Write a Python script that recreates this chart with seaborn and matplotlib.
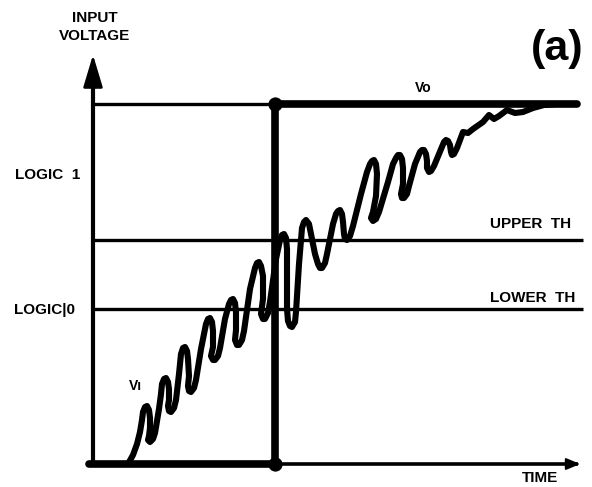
import matplotlib
matplotlib.use("Agg")
import matplotlib.pyplot as plt
import numpy as np
import pandas as pd
import seaborn as sns

# input signal Vi as (time, voltage) pairs, arbitrary units
vi_points = [
    (35, 0), (40, 9), (44, 20), (47, 32), (49, 44),
    (50, 52), (52, 57), (54, 58), (56, 54), (57, 46), (57, 36),
    (56, 28), (55, 24), (57, 22), (60, 25), (62, 31), (66, 55), (68, 70),
    (69, 80), (71, 85), (73, 86), (75, 82), (76, 75), (76, 64),
    (75, 58), (76, 53), (78, 52), (81, 56), (83, 64), (86, 90),
    (88, 110), (90, 116), (92, 117), (94, 113), (95, 105), (96, 88),
    (95, 78), (96, 73), (98, 72), (101, 76), (103, 84), (108, 115),
    (113, 140), (115, 145), (117, 146), (119, 142), (120, 133), (120, 117),
    (118, 108), (120, 104), (122, 104), (125, 108), (127, 116), (132, 145),
    (136, 160), (138, 164), (140, 165), (142, 161), (143, 152), (143, 134),
    (142, 124), (144, 119), (146, 119), (149, 124), (151, 133), (157, 175),
    (162, 196), (164, 201), (166, 202), (168, 198), (170, 188), (170, 165),
    (168, 150), (170, 145), (172, 145), (175, 151), (177, 162), (183, 205),
    (187, 224), (189, 229), (191, 230), (193, 226), (194, 215), (194, 185),
    (194, 155), (195, 143), (197, 138), (199, 137), (202, 142), (203, 152),
    (206, 200), (209, 236), (211, 242), (213, 244), (216, 240), (218, 230),
    (222, 210), (225, 200), (227, 196), (229, 196), (232, 201), (234, 210),
    (240, 240), (243, 250), (245, 253), (247, 254), (249, 250), (250, 242),
    (251, 230), (252, 225), (254, 224), (257, 228), (260, 238), (268, 270),
    (274, 292), (277, 300), (279, 303), (281, 304), (283, 300), (284, 290),
    (283, 268), (280, 252), (278, 246), (280, 243), (283, 245), (286, 252),
    (295, 282), (300, 300), (303, 306), (305, 309), (307, 309), (309, 305),
    (310, 296), (310, 280), (308, 270), (309, 266), (311, 266), (314, 270),
    (316, 278), (322, 300), (327, 312), (329, 314), (331, 314), (333, 310),
    (334, 303), (334, 296), (336, 292), (338, 293), (341, 298), (348, 315),
    (351, 322), (353, 324), (355, 323), (357, 319), (358, 312), (359, 309),
    (361, 310), (364, 316), (370, 332), (375, 331), (380, 335), (390, 342),
    (396, 349), (401, 345), (406, 348), (414, 354), (422, 351), (430, 352),
    (440, 356), (451, 359), (463, 360),
]

# output Vo: low, switches once, then high
vo_t = [-4, 182, 182, 484]
vo_v = [0, 0, 360, 360]
switch_t = [182, 182]
switch_v = [0, 360]

upper_th = 224
lower_th = 155
v_high = 360
t_end = 490

vi = pd.DataFrame(vi_points, columns=["t", "v"])
vo = pd.DataFrame({"t": vo_t, "v": vo_v})

sns.set_style("white")
plt.rcParams["font.family"] = ["Liberation Sans", "DejaVu Sans"]

fig = plt.figure(figsize=(5.92, 4.87), dpi=100)
ax = fig.add_axes([0, 0, 1, 1])
ax.set_xlim(-93, 499)
ax.set_ylim(-23, 464)
ax.axis("off")

ink = "black"
# thin reference lines
ax.hlines([upper_th, lower_th], 0, t_end, color=ink, lw=2.4)
ax.hlines(v_high, 0, 182, color=ink, lw=2.4)
ax.hlines(0, 182, t_end - 5, color=ink, lw=2.6)
ax.vlines(0, 0, 385, color=ink, lw=3.0)

# axis arrows
ax.annotate("", xy=(0, 412), xytext=(0, 380),
            arrowprops=dict(arrowstyle="-|>,head_length=1.0,head_width=0.3",
                            mutation_scale=20, color=ink, lw=2))
ax.annotate("", xy=(t_end, 0), xytext=(t_end - 14, 0),
            arrowprops=dict(arrowstyle="-|>,head_length=0.6,head_width=0.25",
                            mutation_scale=14, color=ink, lw=1.5))

# Vo
sns.lineplot(data=vo, x="t", y="v", sort=False, estimator=None, ax=ax,
             color=ink, lw=5.5, solid_joinstyle="miter")
sns.scatterplot(x=switch_t, y=switch_v, ax=ax, color=ink, s=90,
                edgecolor=ink, zorder=5)

# Vi
sns.lineplot(data=vi, x="t", y="v", sort=False, estimator=None, ax=ax,
             color=ink, lw=4.4, solid_joinstyle="round",
             solid_capstyle="round")

txt = dict(color=ink, fontsize=11, fontweight="bold")
ax.text(2, 437, "INPUT\nVOLTAGE", ha="center", va="center",
        linespacing=1.45, **txt)
ax.text(-78, 289, "LOGIC  1", ha="left", va="center", **txt)
ax.text(-79, 154, "LOGIC|0", ha="left", va="center", **txt)
ax.text(397, 240, "UPPER  TH", ha="left", va="center", **txt)
ax.text(397, 166, "LOWER  TH", ha="left", va="center", **txt)
ax.text(330, 376, "Vo", ha="center", va="center", color=ink, fontsize=10,
        fontweight="bold")
ax.text(42, 78, "Vı", ha="center", va="center", color=ink, fontsize=10,
        fontweight="bold")
ax.text(447, -14, "TIME", ha="center", va="center", **txt)
ax.text(464, 415, "(a)", ha="center", va="center", color=ink, fontsize=31,
        fontweight="bold")

fig.savefig("out.png", dpi=100)
